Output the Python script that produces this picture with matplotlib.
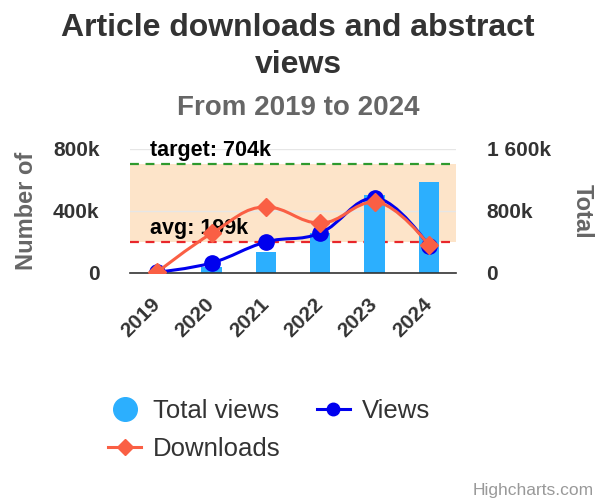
import matplotlib
matplotlib.use("Agg")
import matplotlib.pyplot as plt
from matplotlib.path import Path
from matplotlib.patches import PathPatch, Rectangle
from matplotlib.lines import Line2D
from matplotlib.transforms import blended_transform_factory, offset_copy
from matplotlib.ticker import FuncFormatter

plt.rcParams['font.family'] = ['Liberation Sans', 'DejaVu Sans']

# ---------------- data ----------------
years = ['2019', '2020', '2021', '2022', '2023', '2024']
total_views = [5000, 80000, 270000, 520000, 1000000, 1170000]   # right axis
views = [5000, 65000, 200000, 258000, 484000, 175000]           # left axis
downloads = [5000, 255000, 426000, 322000, 458000, 180000]      # left axis
avg_value = 199000
target_value = 704000
left_ticks = [0, 400000, 800000]
right_ticks = [0, 800000, 1600000]

# ---------------- helpers ----------------
def spline_path(xs, ys, smoothing=1.5):
    n = len(xs)
    denom = smoothing + 1
    left = [(xs[i], ys[i]) for i in range(n)]
    right = [(xs[i], ys[i]) for i in range(n)]
    for i in range(1, n - 1):
        px, py = xs[i], ys[i]
        lx, ly = xs[i - 1], ys[i - 1]
        nx, ny = xs[i + 1], ys[i + 1]
        lcx = (smoothing * px + lx) / denom
        lcy = (smoothing * py + ly) / denom
        rcx = (smoothing * px + nx) / denom
        rcy = (smoothing * py + ny) / denom
        if rcx != lcx:
            corr = ((rcy - lcy) * (rcx - px)) / (rcx - lcx) + py - rcy
            lcy += corr
            rcy += corr
        if lcy > ly and lcy > py:
            lcy = max(ly, py); rcy = 2 * py - lcy
        elif lcy < ly and lcy < py:
            lcy = min(ly, py); rcy = 2 * py - lcy
        if rcy > ny and rcy > py:
            rcy = max(ny, py); lcy = 2 * py - rcy
        elif rcy < ny and rcy < py:
            rcy = min(ny, py); lcy = 2 * py - rcy
        left[i] = (lcx, lcy)
        right[i] = (rcx, rcy)
    verts = [(xs[0], ys[0])]
    codes = [Path.MOVETO]
    for i in range(1, n):
        verts += [right[i - 1], left[i], (xs[i], ys[i])]
        codes += [Path.CURVE4] * 3
    return Path(verts, codes)

def kfmt(v, pos=None):
    k = int(round(v / 1000))
    if k == 0:
        return '0'
    s = f'{k:,}'.replace(',', ' ')
    return s + 'k'

# ---------------- figure ----------------
fig = plt.figure(figsize=(5.96, 5.0), dpi=100)
L, R, B, T = 130/596, 456/596, 1 - 273/500, 1 - 149/500
ax_bars = fig.add_axes([L, B, R - L, T - B])
ax_lines = ax_bars.twinx()

x = list(range(len(years)))

ax_bars.set_xlim(-0.5, len(years) - 0.5)
ax_bars.set_ylim(0, 1600000)
ax_lines.set_ylim(0, 800000)

# band & plot lines (below bars)
bl = blended_transform_factory(ax_bars.transAxes, ax_lines.transData)
ax_bars.add_patch(Rectangle((0, avg_value), 1, target_value - avg_value, transform=bl,
                            facecolor='#fde4c9', edgecolor='none', zorder=0.3))
ax_bars.add_line(Line2D([0, 1], [target_value, target_value], transform=bl, color='#2e9a2e',
                        lw=1.6, ls=(0, (4, 3)), zorder=1.5))
ax_bars.add_line(Line2D([0, 1], [avg_value, avg_value], transform=bl, color='#e8262a',
                        lw=1.6, ls=(0, (4, 3)), zorder=1.5))
bl_up = offset_copy(bl, fig=fig, x=0, y=3, units='dots')
ax_bars.text(20/326, target_value, f'target: {target_value//1000}k', transform=bl_up,
             fontsize=15.5, fontweight='bold', color='#000000', va='bottom', ha='left',
             zorder=5)
ax_bars.text(20/326, avg_value, f'avg: {avg_value//1000}k', transform=bl_up,
             fontsize=15.5, fontweight='bold', color='#000000', va='bottom', ha='left',
             zorder=5)

ax_bars.set_axisbelow(True)
ax_bars.grid(axis='y', color='#e6e6e6', lw=1)
ax_bars.bar(x, total_views, width=0.37, color='#2caffe', zorder=2)

# lines
ax_lines.add_patch(PathPatch(spline_path(x, views), facecolor='none', edgecolor='#0000ee',
                             lw=2.2, zorder=3))
ax_lines.plot(x, views, ls='none', marker='o', ms=11, color='#0000ee', zorder=3.1)
ax_lines.add_patch(PathPatch(spline_path(x, downloads), facecolor='none', edgecolor='#fa5f44',
                             lw=2.2, zorder=4))
ax_lines.plot(x, downloads, ls='none', marker='D', ms=9, color='#fa5f44', zorder=4.1)

# axes styling
for a in (ax_bars, ax_lines):
    for s in a.spines.values():
        s.set_visible(False)
ax_bars.spines['bottom'].set_visible(True)
ax_bars.spines['bottom'].set_color('#333333')
ax_bars.spines['bottom'].set_linewidth(1.2)

ax_bars.yaxis.tick_right()
ax_bars.yaxis.set_label_position('right')
ax_lines.yaxis.tick_left()
ax_lines.yaxis.set_label_position('left')

ax_bars.set_yticks(right_ticks)
ax_bars.yaxis.set_major_formatter(FuncFormatter(kfmt))
ax_lines.set_yticks(left_ticks)
ax_lines.yaxis.set_major_formatter(FuncFormatter(kfmt))

ax_bars.tick_params(axis='y', length=0, pad=22, labelsize=15, labelcolor='#333333')
ax_lines.tick_params(axis='y', length=0, pad=22, labelsize=15, labelcolor='#333333')
for lab in ax_bars.get_yticklabels() + ax_lines.get_yticklabels():
    lab.set_fontweight('bold')

ax_bars.set_xticks(x)
ax_bars.set_xticklabels(years, rotation=45, ha='right', va='center', rotation_mode='anchor',
                        fontsize=15, fontweight='bold', color='#333333')
ax_bars.tick_params(axis='x', length=0, pad=20)

ax_lines.set_ylabel('Number of', fontsize=17, fontweight='bold', color='#666666', labelpad=11)
ax_bars.set_ylabel('Total', fontsize=17, fontweight='bold', color='#666666', rotation=270,
                   labelpad=31)

# titles
fig.text(0.5, 1 - 13/500, 'Article downloads and abstract\nviews', ha='center', va='top',
         fontsize=23, fontweight='bold', color='#333333', linespacing=1.3)
fig.text(0.5, 1 - 108/500, 'From 2019 to 2024', ha='center', va='center',
         fontsize=20, fontweight='bold', color='#666666')

# legend
h_total = Line2D([], [], ls='none', marker='o', ms=17, color='#2caffe')
h_views = Line2D([], [], color='#0000ee', lw=2.2, marker='o', ms=9)
h_down = Line2D([], [], color='#fa5f44', lw=2.2, marker='D', ms=8)
fig.legend([h_total, h_down, h_views], ['Total views', 'Downloads', 'Views'], ncol=2,
           loc='upper left', bbox_to_anchor=(108/596, 1 - 399/500), frameon=False,
           fontsize=18.5, handlelength=1.3, handletextpad=0.45, columnspacing=1.4,
           labelspacing=0.55, borderpad=0, borderaxespad=0, labelcolor='#333333')

fig.text(1 - 2/596, 1 - 491/500, 'Highcharts.com', ha='right', va='center', fontsize=12.5,
         color='#999999')

fig.savefig('out.png', dpi=100)
